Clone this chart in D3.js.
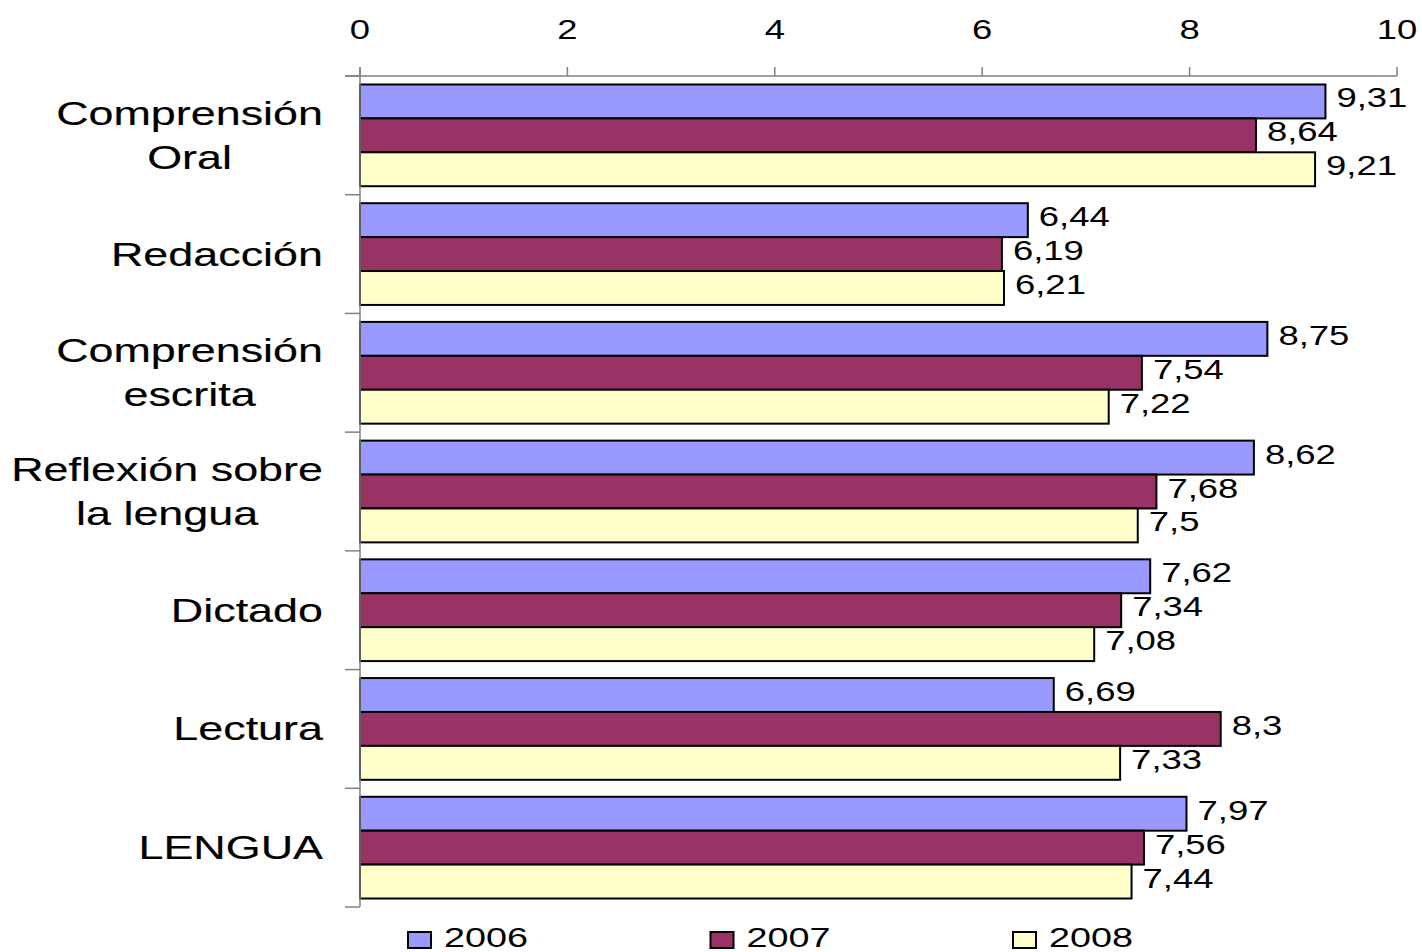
<!DOCTYPE html>
<html><head><meta charset="utf-8">
<script src="https://cdn.jsdelivr.net/npm/d3@7"></script>
<style>
html,body{margin:0;padding:0;background:#fff;}
svg{display:block;font-family:"Liberation Sans",Arial,sans-serif;}
</style></head>
<body>
<svg id="chart" width="1422" height="952"></svg>
<script>
const categories = [["Comprensión","Oral"],["Redacción"],["Comprensión","escrita"],["Reflexión sobre","la lengua"],["Dictado"],["Lectura"],["LENGUA"]];
const years = ["2006","2007","2008"];
const values2006 = [9.31, 6.44, 8.75, 8.62, 7.62, 6.69, 7.97];
const values2007 = [8.64, 6.19, 7.54, 7.68, 7.34, 8.30, 7.56];
const values2008 = [9.21, 6.21, 7.22, 7.50, 7.08, 7.33, 7.44];
const xTicks = [0, 2, 4, 6, 8, 10];
const colors = ["#9999FF", "#993366", "#FFFFCC"];

(function () {
const series = [values2006, values2007, values2008];
const SX = 1.35; // horizontal stretch of text as in reference
const svg = d3.select("#chart");
const pLeft = 360, pRight = 1397, pTop = 76, pBottom = 907;

const x = d3.scaleLinear().domain([0, 10]).range([pLeft, pRight]);
const catKeys = categories.map(c => c.join(" "));
const y = d3.scaleBand().domain(catKeys).range([pTop, pBottom]).paddingInner(0.143).paddingOuter(0.0715);
const y1 = d3.scaleBand().domain(years).range([0, y.bandwidth()]);
const color = d3.scaleOrdinal().domain(years).range(colors);

// bars
const rows = catKeys.map((k, i) => ({key: k, vals: years.map((yr, j) => ({year: yr, v: series[j][i]}))}));
const g = svg.append("g");
const grp = g.selectAll("g.cat").data(rows).join("g").attr("class", "cat")
  .attr("transform", d => `translate(0,${y(d.key)})`);
grp.selectAll("rect").data(d => d.vals).join("rect")
  .attr("x", x(0)).attr("y", d => y1(d.year))
  .attr("width", d => x(d.v) - x(0)).attr("height", y1.bandwidth())
  .attr("fill", d => color(d.year)).attr("stroke", "#000").attr("stroke-width", 2);
grp.selectAll("text").data(d => d.vals).join("text")
  .attr("transform", d => `translate(${x(d.v) + 11},${y1(d.year) + y1.bandwidth() / 2 + 6}) scale(${SX},1)`)
  .attr("font-size", 27).attr("fill", "#000")
  .text(d => String(d.v).replace(".", ","));

// top axis
const axisColor = "#808080";
svg.append("line").attr("x1", pLeft - 15).attr("x2", pRight).attr("y1", pTop).attr("y2", pTop)
  .attr("stroke", axisColor).attr("stroke-width", 1.5);
svg.selectAll("line.xt").data(xTicks).join("line").attr("class", "xt")
  .attr("x1", d => x(d)).attr("x2", d => x(d)).attr("y1", pTop - 9).attr("y2", pTop)
  .attr("stroke", axisColor).attr("stroke-width", 1.5);
svg.selectAll("text.xt").data(xTicks).join("text").attr("class", "xt")
  .attr("transform", d => `translate(${x(d)},39) scale(${SX},1)`)
  .attr("text-anchor", "middle").attr("font-size", 27).text(d => d);

// left axis
svg.append("line").attr("x1", pLeft).attr("x2", pLeft).attr("y1", pTop - 9).attr("y2", pBottom)
  .attr("stroke", axisColor).attr("stroke-width", 1.5);
const bounds = catKeys.map(k => y(k) - y.step() * y.paddingInner() / 2).concat([pBottom]);
svg.selectAll("line.yt").data(bounds).join("line").attr("class", "yt")
  .attr("x1", pLeft - 15).attr("x2", pLeft).attr("y1", d => d).attr("y2", d => d)
  .attr("stroke", axisColor).attr("stroke-width", 1.5);

// category labels
const labelRight = 323, lineH = 44, CSX = 1.36;
categories.forEach((lines, i) => {
  const cy = y(catKeys[i]) + y.bandwidth() / 2;
  const lg = svg.append("g");
  const texts = lines.map((t, j) => lg.append("text").attr("text-anchor", "middle")
    .attr("font-size", 33).attr("stroke", "#000").attr("stroke-width", 0.15)
    .attr("y", (j - (lines.length - 1) / 2) * lineH + 11.5).text(t));
  const w = d3.max(texts, t => t.node().getComputedTextLength()) * CSX;
  lg.attr("transform", `translate(${labelRight - w / 2},${cy}) scale(${CSX},1)`);
});

// legend
const lx = d3.scalePoint().domain(years).range([408, 1013]);
const leg = svg.selectAll("g.leg").data(years).join("g").attr("class", "leg")
  .attr("transform", d => `translate(${lx(d)},0)`);
leg.append("rect").attr("x", 0).attr("y", 932).attr("width", 23).attr("height", 16)
  .attr("fill", d => color(d)).attr("stroke", "#000").attr("stroke-width", 2);
leg.append("text").attr("transform", `translate(36,947) scale(${SX},1)`)
  .attr("font-size", 28).text(d => d);
})();
</script>
</body></html>
